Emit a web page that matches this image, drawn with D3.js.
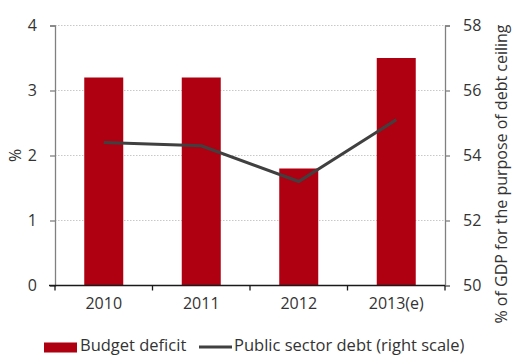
<!DOCTYPE html>
<html>
<head>
<meta charset="utf-8">
<script src="https://cdn.jsdelivr.net/npm/d3@7"></script>
<style>
  html, body { margin: 0; padding: 0; background: #fff; }
  svg text { font-family: "Open Sans", "Noto Sans", sans-serif; fill: #333; }
</style>
</head>
<body>
<svg id="chart" width="512" height="356"></svg>
<script>
// Budget deficit (% of GDP) and public sector debt (% of GDP, right scale)
const years = ["2010", "2011", "2012", "2013(e)"];
const deficit = [3.2, 3.2, 1.8, 3.5];
const debt = [54.4, 54.3, 53.2, 55.1];
const leftTicks = [0, 1, 2, 3, 4];
const rightTicks = [50, 52, 54, 56, 58];

const svg = d3.select("#chart");
const margin = { left: 55, right: 67, top: 25.5, bottom: 70.5 };
const W = 512, H = 356;
const x0 = margin.left, x1 = W - margin.right;
const y0 = H - margin.bottom, y1 = margin.top;

const x = d3.scaleBand().domain(years).range([x0, x1]).paddingInner(0.6).paddingOuter(0.3);
const yL = d3.scaleLinear().domain([0, 4]).range([y0, y1]);
const yR = d3.scaleLinear().domain([50, 58]).range([y0, y1]);

// gridlines
svg.append("g").selectAll("line").data(leftTicks.slice(1)).join("line")
  .attr("x1", x0).attr("x2", x1)
  .attr("y1", d => yL(d)).attr("y2", d => yL(d))
  .attr("stroke", "#c8c8c8").attr("stroke-width", 1).attr("stroke-dasharray", "1.5,1.5");

// bars
svg.append("g").selectAll("rect").data(years).join("rect")
  .attr("x", d => x(d)).attr("width", x.bandwidth())
  .attr("y", (d, i) => yL(deficit[i]))
  .attr("height", (d, i) => yL(0) - yL(deficit[i]))
  .attr("fill", "#ae0011");

// debt line
const bandCenter = d => x(d) + x.bandwidth() / 2;
svg.append("path")
  .datum(years.map((d, i) => [bandCenter(d), yR(debt[i])]))
  .attr("d", d3.line())
  .attr("fill", "none").attr("stroke", "#404040").attr("stroke-width", 3);

// left axis
const gL = svg.append("g").attr("transform", `translate(${x0},0)`)
  .call(d3.axisLeft(yL).tickValues(leftTicks).tickSize(5).tickPadding(13).tickFormat(d3.format("d")));
gL.select(".domain").attr("stroke", "#808080").attr("stroke-width", 1.3);
gL.selectAll(".tick line").attr("stroke", "#808080").attr("stroke-width", 1.3);
gL.selectAll("text").attr("font-size", 16).attr("fill", "#333");

// right axis
const gR = svg.append("g").attr("transform", `translate(${x1},0)`)
  .call(d3.axisRight(yR).tickValues(rightTicks).tickSize(5).tickPadding(13).tickFormat(d3.format("d")));
gR.select(".domain").attr("stroke", "#808080").attr("stroke-width", 1.3);
gR.selectAll(".tick line").attr("stroke", "#808080").attr("stroke-width", 1.3);
gR.selectAll("text").attr("font-size", 16).attr("fill", "#333");

// bottom axis
const bounds = [x0, ...years.slice(1).map(d => x(d) - x.step() * x.paddingInner() / 2), x1];
svg.append("line").attr("x1", x0 - 6).attr("x2", x1).attr("y1", y0).attr("y2", y0)
  .attr("stroke", "#1a1a1a").attr("stroke-width", 1.3);
svg.append("g").selectAll("line").data(bounds).join("line")
  .attr("x1", d => d).attr("x2", d => d).attr("y1", y0).attr("y2", y0 + 5)
  .attr("stroke", "#1a1a1a").attr("stroke-width", 1.3);
svg.append("g").selectAll("text").data(years).join("text")
  .attr("x", d => bandCenter(d)).attr("y", y0 + 23)
  .attr("text-anchor", "middle").attr("font-size", 16).text(d => d);

// axis titles
svg.append("text").attr("transform", `translate(21,${yL(2)}) rotate(-90)`)
  .attr("text-anchor", "middle").attr("font-size", 16).text("%");
svg.append("text").attr("transform", `translate(507,174) rotate(-90)`)
  .attr("text-anchor", "middle").attr("font-size", 16).text("% of GDP for the purpose of debt ceiling");

// legend
const ly = 347;
svg.append("rect").attr("x", 44).attr("y", ly - 4.5).attr("width", 33).attr("height", 10).attr("fill", "#ae0011");
svg.append("text").attr("x", 80).attr("y", ly + 4).attr("font-size", 16.5).text("Budget deficit");
svg.append("line").attr("x1", 199).attr("x2", 232).attr("y1", ly).attr("y2", ly)
  .attr("stroke", "#404040").attr("stroke-width", 3);
svg.append("text").attr("x", 234).attr("y", ly + 4).attr("font-size", 16.5).text("Public sector debt (right scale)");
</script>
</body>
</html>
